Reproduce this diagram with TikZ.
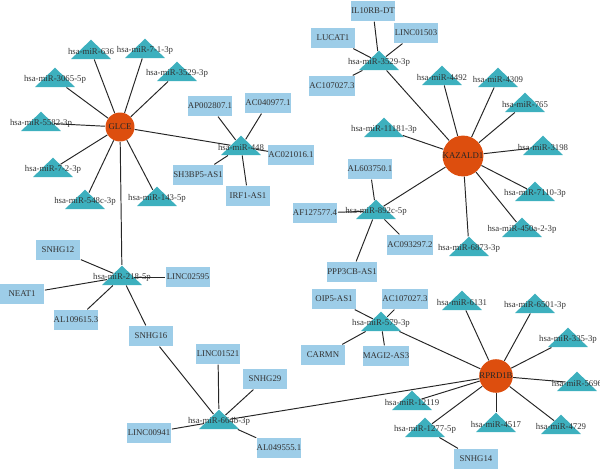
\documentclass[tikz,border=0pt]{standalone}
\usepackage{fontspec}
\setmainfont{Liberation Serif}
\usetikzlibrary{shapes.geometric}
\definecolor{mirna}{HTML}{3DB0BE}
\definecolor{lncrna}{HTML}{9DCDE8}
\definecolor{gene}{HTML}{DD4E0E}
\tikzset{
    x=0.02cm, y=-0.02cm, % one unit is one pixel, y grows downwards
    tag/.style={font=\fontsize{5}{6}\selectfont, text=black!80, inner sep=0pt},
    mir/.style={isosceles triangle, isosceles triangle stretches,
        shape border rotate=90, draw=none, fill=mirna, inner sep=0pt,
        minimum width=8mm, minimum height=3.9mm,
        label={[tag]center:#1}}, % triangle with its name on top
    lnc/.style={rectangle, fill=lncrna, inner sep=0pt,
        minimum width=9mm, minimum height=4.1mm, tag},
    gene/.style={circle, fill=gene, inner sep=0pt, minimum size=5.8mm, tag, text=black!85},
    every edge/.append style={line width=0.55pt, draw=black!85},
}

\begin{document}
\begin{tikzpicture}
  \useasboundingbox (0,0) rectangle (600,470);

  % genes
  \node[gene] (glce)    at (120,127) {GLCE};
  \node[gene] (kazald1) at (463,156) {KAZALD1};
  \node[gene] (rprd1b)  at (496,376) {RPRD1B};

  % miRNAs
  \node[mir=hsa-miR-636]      (m636)   at (91,51)   {};
  \node[mir=hsa-miR-7-1-3p]   (m713)   at (145,50)  {};
  \node[mir=hsa-miR-3529-3p]  (m3529a) at (177,73)  {};
  \node[mir=hsa-miR-3065-5p]  (m3065)  at (55,79)   {};
  \node[mir=hsa-miR-5582-3p]  (m5582)  at (41,123)  {};
  \node[mir=hsa-miR-7-2-3p]   (m723)   at (53,169)  {};
  \node[mir=hsa-miR-548c-3p]  (m548c)  at (85,201)  {};
  \node[mir=hsa-miR-143-5p]   (m143)   at (157,198) {};
  \node[mir=hsa-miR-218-5p]   (m218)   at (122,277) {};
  \node[mir=hsa-miR-448]      (m448)   at (241,147) {};
  \node[mir=hsa-miR-3529-3p]  (m3529b) at (379,62)  {};
  \node[mir=hsa-miR-4492]     (m4492)  at (442,77)  {};
  \node[mir=hsa-miR-4309]     (m4309)  at (498,79)  {};
  \node[mir=hsa-miR-765]      (m765)   at (525,104) {};
  \node[mir=hsa-miR-3198]     (m3198)  at (543,147) {};
  \node[mir=hsa-miR-11181-3p] (m11181) at (384,129) {};
  \node[mir=hsa-miR-7110-3p]  (m7110)  at (535,193) {};
  \node[mir=hsa-miR-450a-2-3p](m450a)  at (522,229) {};
  \node[mir=hsa-miR-6873-3p]  (m6873)  at (469,248) {};
  \node[mir=hsa-miR-892c-5p]  (m892c)  at (376,211) {};
  \node[mir=hsa-miR-579-3p]   (m579)   at (381,323) {};
  \node[mir=hsa-miR-6131]     (m6131)  at (462,302) {};
  \node[mir=hsa-miR-6501-3p]  (m6501)  at (535,305) {};
  \node[mir=hsa-miR-335-3p]   (m335)   at (568,339) {};
  \node[mir=hsa-miR-5696]     (m5696)  at (577,383) {};
  \node[mir=hsa-miR-4729]     (m4729)  at (561,426) {};
  \node[mir=hsa-miR-4517]     (m4517)  at (496,424) {};
  \node[mir=hsa-miR-1277-5p]  (m1277)  at (425,429) {};
  \node[mir=hsa-miR-12119]    (m12119) at (412,402) {};
  \node[mir=hsa-miR-664b-3p]  (m664b)  at (219,421) {};

  % lncRNAs
  \node[lnc] (ap002807)  at (210,106) {AP002807.1};
  \node[lnc] (ac040977)  at (268,103) {AC040977.1};
  \node[lnc] (ac021016)  at (291,155) {AC021016.1};
  \node[lnc] (sh3bp5)    at (198,175) {SH3BP5-AS1};
  \node[lnc] (irf1)      at (248,196) {IRF1-AS1};
  \node[lnc] (il10rb)    at (373,11)  {IL10RB-DT};
  \node[lnc] (linc01503) at (416,33)  {LINC01503};
  \node[lnc] (lucat1)    at (333,38)  {LUCAT1};
  \node[lnc] (ac107027a) at (332,86)  {AC107027.3};
  \node[lnc] (al603750)  at (370,169) {AL603750.1};
  \node[lnc] (af127577)  at (315,213) {AF127577.4};
  \node[lnc] (ac093297)  at (410,245) {AC093297.2};
  \node[lnc] (ppp3cb)    at (352,272) {PPP3CB-AS1};
  \node[lnc] (oip5)      at (334,299) {OIP5-AS1};
  \node[lnc] (ac107027b) at (405,299) {AC107027.3};
  \node[lnc] (carmn)     at (323,355) {CARMN};
  \node[lnc] (magi2)     at (386,356) {MAGI2-AS3};
  \node[lnc] (snhg12)    at (58,250)  {SNHG12};
  \node[lnc] (neat1)     at (22,294)  {NEAT1};
  \node[lnc] (al109615)  at (76,320)  {AL109615.3};
  \node[lnc] (linc02595) at (188,277) {LINC02595};
  \node[lnc] (snhg16)    at (151,336) {SNHG16};
  \node[lnc] (linc01521) at (218,354) {LINC01521};
  \node[lnc] (snhg29)    at (265,379) {SNHG29};
  \node[lnc] (linc00941) at (149,433) {LINC00941};
  \node[lnc] (al049555)  at (279,448) {AL049555.1};
  \node[lnc] (snhg14)    at (476,459) {SNHG14};

  \path
    (glce) edge (m636) edge (m713) edge (m3529a) edge (m3065) edge (m5582)
           edge (m723) edge (m548c) edge (m143) edge (m218) edge (m448)
    (m448) edge (ap002807) edge (ac040977) edge (ac021016) edge (sh3bp5) edge (irf1)
    (m218) edge (snhg12) edge (neat1) edge (al109615) edge (linc02595) edge (snhg16)
    (m664b) edge (snhg16) edge (linc01521) edge (snhg29) edge (linc00941)
            edge (al049555) edge (rprd1b)
    (m3529b) edge (il10rb) edge (linc01503) edge (lucat1) edge (ac107027a) edge (kazald1)
    (kazald1) edge (m4492) edge (m4309) edge (m765) edge (m3198) edge (m11181)
              edge (m7110) edge (m450a) edge (m6873) edge (m892c)
    (m892c) edge (al603750) edge (af127577) edge (ac093297) edge (ppp3cb)
    (m579) edge (oip5) edge (ac107027b) edge (carmn) edge (magi2) edge (rprd1b)
    (rprd1b) edge (m6131) edge (m6501) edge (m335) edge (m5696) edge (m4729)
             edge (m4517) edge (m1277) edge (m12119)
    (m1277) edge (snhg14);
\end{tikzpicture}
\end{document}
